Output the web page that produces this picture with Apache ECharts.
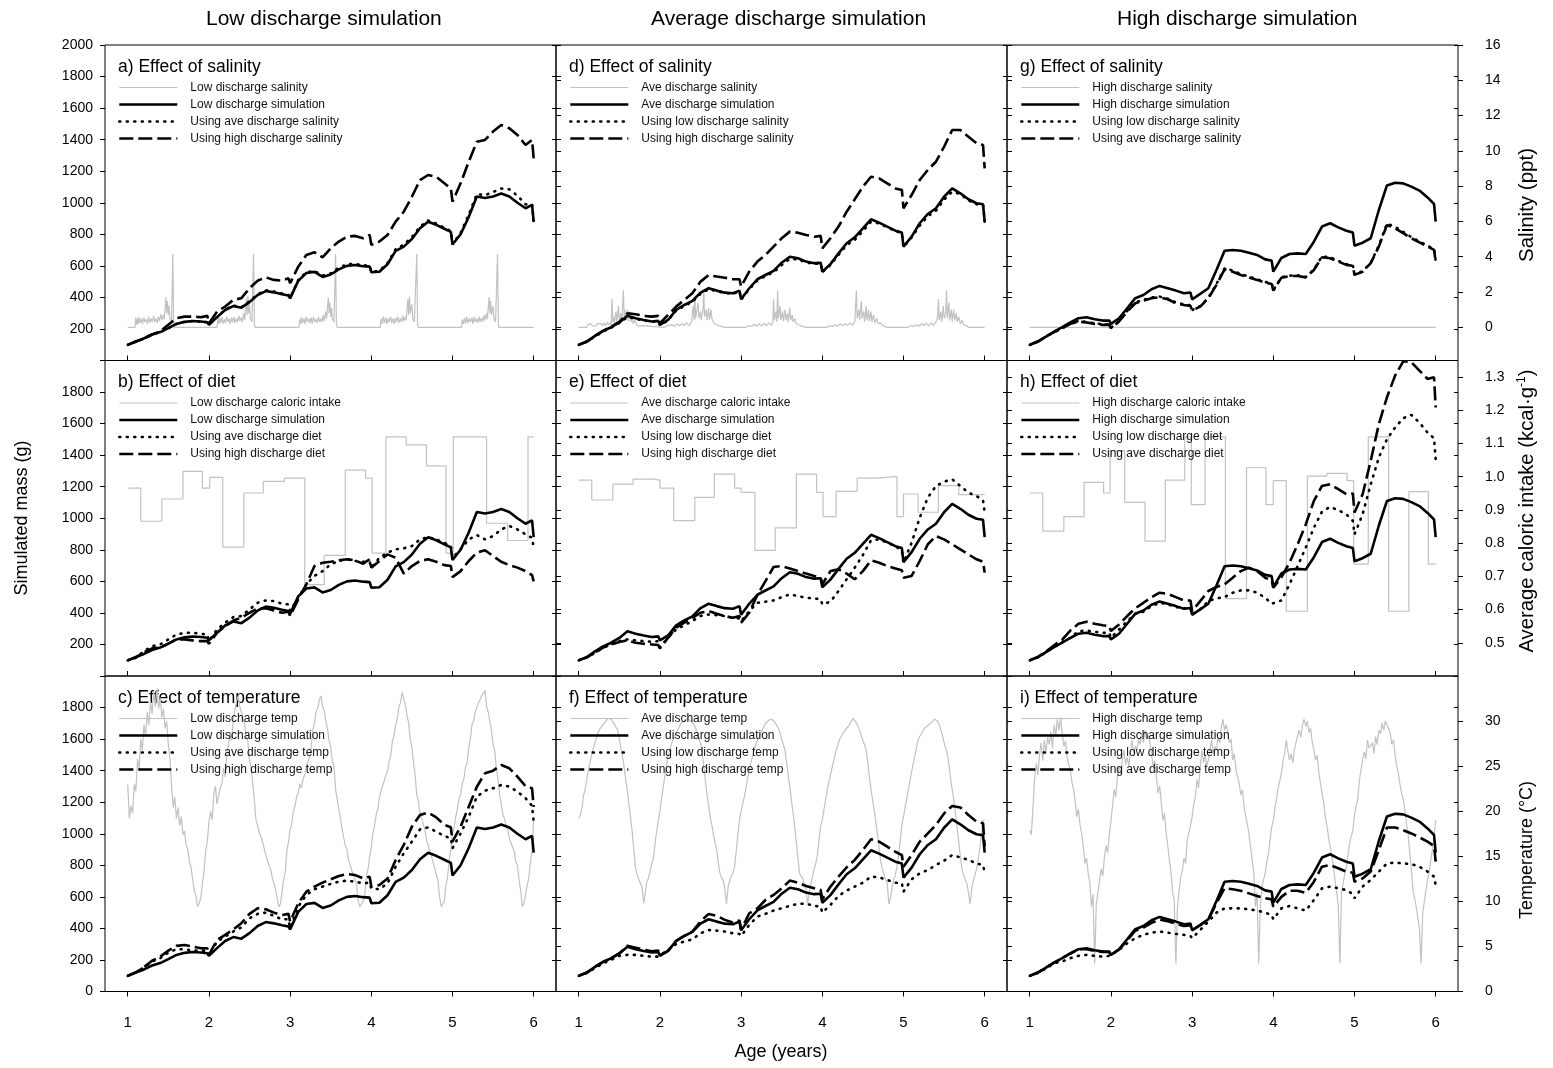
<!DOCTYPE html>
<html>
<head>
<meta charset="utf-8">
<title>Simulated mass by discharge scenario</title>
<script src="https://cdn.jsdelivr.net/npm/echarts@6/dist/echarts.min.js"></script>
<style>
  html, body { margin: 0; padding: 0; background: #fff; }
  #chart { width: 1553px; height: 1068px; }
</style>
</head>
<body>
<div id="chart"></div>
<script>
// ---------------------------------------------------------------------------
// Sampling ages (years) shared by every simulated-mass curve.
// Each year ends with a point just before the birthday drop.
// ---------------------------------------------------------------------------
const ages = [
  1.0, 1.1, 1.2, 1.3, 1.4, 1.5, 1.6, 1.7, 1.8, 1.9, 1.98,
  2.0, 2.1, 2.2, 2.3, 2.4, 2.5, 2.6, 2.7, 2.8, 2.9, 2.98,
  3.0, 3.1, 3.2, 3.3, 3.4, 3.5, 3.6, 3.7, 3.8, 3.9, 3.98,
  4.0, 4.1, 4.2, 4.3, 4.4, 4.5, 4.6, 4.7, 4.8, 4.9, 4.98,
  5.0, 5.1, 5.2, 5.3, 5.4, 5.5, 5.6, 5.7, 5.8, 5.9, 5.98,
  6.0
];

// Simulated mass (g) — low discharge column
const massLowSim = [
  99, 120, 140, 165, 180, 205, 232, 245, 250, 247, 242,
  226, 275, 320, 345, 335, 370, 415, 440, 432, 420, 412,
  394, 505, 555, 562, 530, 545, 578, 600, 605, 598, 595,
  560, 563, 610, 695, 722, 770, 838, 880, 860, 835, 815,
  735, 800, 910, 1040, 1030, 1040, 1058, 1040, 1000, 965, 986,
  880
];
const massLowAveSal = [
  99, 120, 140, 165, 180, 205, 232, 245, 250, 247, 242,
  226, 275, 322, 348, 338, 375, 420, 445, 438, 425, 415,
  396, 510, 560, 568, 538, 552, 588, 610, 612, 605, 600,
  562, 568, 618, 705, 735, 782, 848, 888, 868, 842, 820,
  738, 808, 925, 1055, 1048, 1068, 1090, 1085, 1045, 990, 990,
  885
];
const massLowHighSal = [
  99, 120, 140, 165, 185, 226, 268, 278, 278, 274, 283,
  236, 310, 342, 384, 395, 458, 506, 527, 511, 506, 521,
  490, 595, 669, 686, 654, 711, 754, 785, 790, 775, 796,
  733, 754, 796, 880, 943, 1038, 1144, 1176, 1165, 1123, 1091,
  1007, 1123, 1260, 1387, 1398, 1451, 1493, 1472, 1430, 1366, 1398,
  1282
];
const massLowAveDiet = [
  99, 115, 158, 189, 200, 232, 263, 274, 274, 268, 263,
  221, 295, 338, 373, 380, 422, 464, 479, 475, 458, 454,
  412, 496, 581, 634, 665, 708, 729, 740, 729, 724, 724,
  687, 750, 782, 803, 809, 824, 866, 881, 866, 845, 824,
  750, 803, 866, 893, 866, 887, 929, 951, 929, 898, 876,
  813
];
const massLowHighDiet = [
  99, 118, 150, 175, 180, 205, 232, 232, 226, 221, 221,
  204, 274, 316, 352, 369, 401, 429, 429, 416, 401, 407,
  380, 486, 581, 697, 718, 724, 733, 740, 733, 712, 740,
  687, 729, 771, 750, 649, 697, 729, 740, 724, 703, 697,
  627, 665, 729, 782, 797, 761, 724, 703, 687, 665, 640,
  600
];
const massLowAveTemp = [
  99, 122, 152, 190, 211, 247, 268, 268, 259, 259, 259,
  226, 317, 348, 380, 407, 464, 492, 500, 479, 458, 458,
  401, 538, 612, 648, 665, 682, 696, 703, 696, 686, 690,
  654, 648, 686, 791, 876, 950, 1028, 1040, 1013, 986, 971,
  908, 1002, 1108, 1235, 1273, 1288, 1309, 1299, 1267, 1225, 1177,
  1077
];
const massLowHighTemp = [
  99, 122, 155, 195, 221, 259, 289, 295, 285, 274, 274,
  232, 327, 359, 394, 433, 492, 528, 521, 500, 485, 492,
  443, 559, 633, 665, 690, 711, 732, 745, 738, 717, 728,
  665, 675, 717, 834, 929, 1045, 1119, 1134, 1104, 1056, 1041,
  950, 1045, 1171, 1298, 1383, 1400, 1436, 1415, 1362, 1302, 1288,
  1171
];

// Simulated mass (g) — average discharge column
const massAveSim = [
  99, 120, 156, 188, 211, 241, 283, 268, 257, 247, 251,
  226, 257, 321, 352, 378, 430, 458, 443, 430, 426, 443,
  388, 458, 515, 542, 568, 620, 658, 648, 627, 617, 620,
  563, 611, 679, 743, 781, 838, 895, 874, 849, 823, 811,
  722, 785, 870, 929, 965, 1038, 1091, 1060, 1022, 997, 990,
  880
];
const massAveLowSal = [
  99, 120, 152, 184, 208, 238, 276, 264, 254, 245, 248,
  224, 254, 316, 346, 372, 423, 452, 440, 428, 423, 438,
  385, 452, 508, 535, 560, 605, 645, 640, 622, 612, 615,
  560, 605, 670, 732, 765, 820, 880, 868, 845, 820, 808,
  720, 780, 855, 915, 950, 1020, 1070, 1055, 1015, 990, 985,
  880
];
const massAveHighSal = [
  99, 120, 156, 188, 215, 245, 299, 293, 283, 278, 283,
  236, 289, 342, 384, 426, 500, 542, 532, 525, 515, 515,
  468, 563, 627, 669, 722, 775, 817, 810, 796, 785, 790,
  711, 775, 849, 943, 1022, 1102, 1165, 1155, 1123, 1091, 1081,
  965, 1049, 1144, 1208, 1260, 1355, 1461, 1461, 1419, 1377, 1366,
  1218
];
const massAveLowDiet = [
  99, 118, 147, 179, 200, 221, 232, 226, 221, 217, 221,
  183, 242, 295, 322, 348, 380, 390, 386, 380, 369, 365,
  348, 412, 464, 471, 479, 500, 517, 507, 496, 492, 486,
  454, 471, 539, 613, 687, 767, 860, 866, 845, 824, 792,
  718, 845, 1004, 1131, 1205, 1232, 1247, 1205, 1162, 1141, 1113,
  1036
];
const massAveHighDiet = [
  99, 118, 150, 180, 200, 215, 226, 211, 204, 200, 196,
  175, 242, 306, 338, 369, 401, 412, 395, 380, 369, 380,
  338, 401, 513, 602, 691, 697, 682, 665, 649, 634, 623,
  581, 665, 676, 649, 613, 665, 733, 718, 697, 682, 670,
  623, 634, 729, 835, 887, 866, 835, 803, 771, 740, 724,
  655
];
const massAveLowTemp = [
  99, 118, 148, 179, 200, 226, 232, 232, 226, 221, 221,
  211, 264, 301, 317, 331, 369, 390, 386, 380, 369, 365,
  352, 422, 475, 492, 513, 528, 543, 556, 556, 543, 538,
  500, 549, 606, 640, 665, 690, 728, 724, 707, 690, 686,
  633, 711, 749, 770, 802, 829, 865, 850, 834, 812, 802,
  753
];
const massAveHighTemp = [
  99, 120, 156, 188, 211, 241, 290, 278, 265, 255, 260,
  230, 257, 321, 352, 380, 444, 492, 479, 454, 437, 450,
  390, 496, 527, 580, 612, 654, 703, 690, 669, 654, 643,
  584, 665, 728, 787, 834, 897, 965, 950, 918, 886, 865,
  791, 865, 950, 1002, 1055, 1129, 1176, 1167, 1119, 1077, 1066,
  918
];

// Simulated mass (g) — high discharge column
const massHighSim = [
  99, 120, 152, 183, 211, 241, 268, 274, 262, 253, 253,
  232, 268, 331, 395, 415, 452, 473, 458, 443, 426, 431,
  388, 422, 458, 574, 696, 700, 696, 683, 669, 641, 633,
  563, 650, 675, 679, 675, 753, 849, 870, 844, 823, 811,
  728, 747, 775, 954, 1110, 1127, 1123, 1102, 1077, 1034, 992,
  880
];
const massHighLowSal = [
  99, 120, 152, 180, 205, 235, 250, 245, 236, 230, 230,
  208, 250, 315, 368, 385, 400, 405, 392, 368, 356, 350,
  320, 345, 398, 485, 585, 570, 548, 532, 515, 498, 488,
  445, 528, 538, 540, 530, 578, 660, 655, 632, 610, 604,
  545, 566, 620, 728, 868, 848, 815, 782, 755, 728, 706,
  632
];
const massHighAveSal = [
  99, 120, 152, 180, 205, 233, 247, 241, 232, 226, 226,
  205, 247, 310, 363, 380, 395, 401, 388, 363, 352, 346,
  317, 342, 395, 479, 578, 563, 542, 527, 511, 494, 485,
  443, 525, 535, 536, 527, 574, 654, 648, 627, 606, 600,
  543, 563, 617, 722, 859, 838, 807, 775, 749, 722, 701,
  627
];
const massHighLowDiet = [
  99, 118, 150, 183, 215, 242, 284, 288, 280, 274, 274,
  242, 295, 348, 394, 407, 443, 464, 454, 437, 429, 433,
  391, 422, 475, 492, 500, 528, 543, 543, 528, 496, 458,
  450, 479, 581, 697, 814, 940, 1042, 1072, 1051, 1025, 983,
  898, 1025, 1215, 1385, 1501, 1575, 1634, 1655, 1606, 1543, 1507,
  1374
];
const massHighAveDiet = [
  99, 120, 156, 195, 230, 288, 331, 344, 331, 322, 316,
  285, 327, 380, 429, 464, 500, 528, 521, 500, 479, 479,
  412, 475, 539, 564, 581, 623, 665, 687, 665, 623, 606,
  560, 627, 718, 835, 961, 1110, 1205, 1216, 1184, 1152, 1157,
  1036, 1152, 1364, 1597, 1767, 1904, 1995, 1990, 1936, 1883, 1894,
  1702
];
const massHighLowTemp = [
  99, 118, 145, 179, 190, 211, 226, 232, 226, 221, 226,
  217, 264, 306, 338, 359, 373, 380, 373, 365, 359, 352,
  338, 390, 443, 500, 527, 527, 527, 521, 513, 500, 485,
  458, 527, 542, 527, 513, 580, 654, 665, 654, 643, 618,
  591, 665, 707, 760, 812, 817, 812, 808, 791, 760, 728,
  675
];
const massHighAveTemp = [
  99, 120, 152, 183, 211, 241, 268, 268, 258, 250, 250,
  232, 265, 325, 385, 405, 435, 455, 445, 430, 415, 420,
  390, 420, 455, 560, 655, 648, 639, 622, 605, 591, 584,
  537, 600, 639, 639, 626, 696, 791, 802, 781, 760, 753,
  696, 717, 760, 897, 1040, 1040, 1023, 1002, 977, 950, 922,
  823
];

// Salinity (ppt) as [age, value] readings
const salinityLow = [
  [1.00,0],[1.09,0],[1.10,0.55],[1.11,0.15],[1.12,0.5],[1.13,0.2],[1.14,0.6],[1.15,0.25],[1.17,0.5],[1.18,0.2],
  [1.20,0.55],[1.21,0.3],[1.23,0.45],[1.24,0.2],[1.26,0.6],[1.27,0.25],[1.29,0.5],[1.30,0.3],[1.32,0.65],[1.33,0.3],
  [1.35,0.5],[1.36,0.25],[1.38,0.6],[1.39,0.35],[1.41,0.75],[1.42,0.4],[1.44,0.7],[1.45,0.45],[1.47,1.7],[1.48,0.8],
  [1.49,1.5],[1.50,0.7],[1.51,1.2],[1.52,0.5],[1.54,0.3],[1.555,4.15],[1.565,0.2],[1.57,0],
  [2.10,0],[2.11,0.5],[2.12,0.2],[2.13,0.55],[2.14,0.25],[2.16,0.6],[2.17,0.2],[2.19,0.45],[2.20,0.25],[2.22,0.6],
  [2.23,0.3],[2.25,0.5],[2.26,0.2],[2.28,0.55],[2.29,0.3],[2.31,0.6],[2.32,0.25],[2.34,0.5],[2.35,0.3],[2.37,0.65],
  [2.38,0.35],[2.40,0.55],[2.41,0.3],[2.43,0.8],[2.44,0.4],[2.46,1.6],[2.47,0.7],[2.48,1.8],[2.49,0.8],[2.50,1.3],
  [2.51,0.5],[2.53,0.3],[2.55,4.15],[2.56,0.2],[2.57,0],
  [3.11,0],[3.12,0.45],[3.13,0.2],[3.14,0.6],[3.15,0.25],[3.17,0.5],[3.18,0.2],[3.20,0.6],[3.21,0.3],[3.23,0.5],
  [3.24,0.25],[3.26,0.55],[3.27,0.2],[3.29,0.6],[3.30,0.3],[3.32,0.45],[3.33,0.25],[3.35,0.6],[3.36,0.3],[3.38,0.5],
  [3.39,0.3],[3.41,0.7],[3.42,0.35],[3.44,0.9],[3.45,0.5],[3.47,1.7],[3.48,0.8],[3.49,1.4],[3.50,0.6],[3.51,1.1],
  [3.52,0.5],[3.54,0.3],[3.56,4.15],[3.57,0.2],[3.58,0],
  [4.11,0],[4.12,0.5],[4.13,0.2],[4.15,0.6],[4.16,0.25],[4.18,0.55],[4.19,0.2],[4.21,0.5],[4.22,0.3],[4.24,0.6],
  [4.25,0.25],[4.27,0.5],[4.28,0.2],[4.30,0.55],[4.31,0.3],[4.33,0.6],[4.34,0.25],[4.36,0.5],[4.37,0.3],[4.39,0.65],
  [4.40,0.35],[4.42,0.6],[4.43,0.4],[4.45,1.6],[4.46,0.7],[4.47,1.75],[4.48,0.8],[4.50,1.3],[4.51,0.5],[4.53,0.3],
  [4.56,4.15],[4.57,0.2],[4.58,0],
  [5.11,0],[5.12,0.45],[5.13,0.2],[5.15,0.55],[5.16,0.2],[5.18,0.6],[5.19,0.25],[5.21,0.5],[5.22,0.3],[5.24,0.55],
  [5.25,0.2],[5.27,0.6],[5.28,0.3],[5.30,0.5],[5.31,0.25],[5.33,0.6],[5.34,0.3],[5.36,0.55],[5.37,0.3],[5.39,0.7],
  [5.40,0.4],[5.42,0.8],[5.43,0.45],[5.45,1.7],[5.46,0.8],[5.47,1.5],[5.48,0.7],[5.50,1.2],[5.51,0.5],[5.53,0.3],
  [5.555,4.15],[5.565,0.2],[5.57,0],[6.00,0]
];
const salinityAve = [
  [1.00,0],[1.10,0],[1.11,0.15],[1.13,0.05],[1.15,0.2],[1.17,0.08],[1.19,0.18],[1.21,0.06],[1.23,0.2],[1.25,0.1],
  [1.27,0.22],[1.29,0.08],[1.31,0.25],[1.33,0.1],[1.35,0.28],[1.37,0.12],[1.39,0.3],[1.40,0.15],[1.41,1.6],[1.42,0.3],
  [1.43,0.6],[1.44,0.25],[1.46,0.9],[1.47,0.3],[1.49,1.2],[1.50,0.4],[1.52,0.8],[1.53,0.3],[1.55,2.1],[1.56,0.5],
  [1.57,1.0],[1.58,0.4],[1.60,1.0],[1.61,0.35],[1.63,0.9],[1.64,0.3],[1.66,0.6],[1.67,0.2],[1.69,0.4],[1.71,0.15],
  [1.73,0.2],[1.75,0.05],[1.78,0.1],[1.80,0],[2.05,0],
  [2.10,0.1],[2.12,0.05],[2.15,0.15],[2.18,0.05],[2.21,0.2],[2.24,0.08],[2.27,0.2],[2.30,0.1],[2.33,0.25],[2.36,0.1],
  [2.39,0.3],[2.41,1.2],[2.42,0.4],[2.43,1.75],[2.44,0.5],[2.46,0.6],[2.47,1.4],[2.48,0.5],[2.50,0.9],[2.51,0.4],
  [2.53,1.0],[2.54,2.1],[2.55,0.6],[2.57,1.0],[2.58,0.4],[2.60,1.1],[2.61,0.4],[2.63,1.0],[2.64,0.5],[2.66,0.6],
  [2.67,0.2],[2.69,0.3],[2.72,0.1],[2.75,0.05],[2.80,0],[3.05,0],
  [3.10,0.1],[3.13,0.05],[3.16,0.18],[3.19,0.06],[3.22,0.2],[3.25,0.08],[3.28,0.22],[3.31,0.1],[3.34,0.25],[3.37,0.12],
  [3.39,0.3],[3.40,1.6],[3.41,0.4],[3.43,0.9],[3.44,0.3],[3.45,2.1],[3.46,0.5],[3.48,1.2],[3.49,0.4],[3.51,0.9],
  [3.52,0.35],[3.54,1.0],[3.55,0.4],[3.57,0.8],[3.58,0.3],[3.60,1.1],[3.61,0.4],[3.63,0.7],[3.64,0.3],[3.66,0.5],
  [3.68,0.2],[3.70,0.3],[3.73,0.1],[3.76,0.05],[3.80,0],[4.05,0],
  [4.10,0.1],[4.13,0.05],[4.16,0.15],[4.19,0.06],[4.22,0.2],[4.25,0.08],[4.28,0.22],[4.31,0.1],[4.34,0.25],[4.37,0.12],
  [4.40,0.3],[4.42,2.1],[4.43,0.5],[4.45,1.0],[4.46,0.4],[4.48,1.5],[4.49,0.5],[4.51,0.9],[4.52,0.3],[4.54,1.2],
  [4.55,0.4],[4.57,1.0],[4.58,0.35],[4.60,0.9],[4.61,0.3],[4.63,0.7],[4.65,0.25],[4.67,0.5],[4.69,0.2],[4.72,0.25],
  [4.75,0.08],[4.80,0],[5.05,0],
  [5.10,0.1],[5.13,0.05],[5.16,0.15],[5.19,0.06],[5.22,0.2],[5.25,0.1],[5.28,0.22],[5.31,0.08],[5.34,0.25],[5.37,0.12],
  [5.40,0.3],[5.42,0.6],[5.43,1.6],[5.44,0.4],[5.46,0.9],[5.47,0.3],[5.49,1.2],[5.50,0.5],[5.52,0.8],[5.53,2.1],
  [5.54,0.5],[5.56,1.4],[5.57,0.4],[5.59,1.0],[5.60,0.35],[5.62,1.0],[5.63,0.4],[5.65,0.8],[5.66,0.3],[5.68,0.6],
  [5.70,0.2],[5.72,0.4],[5.74,0.15],[5.77,0.1],[5.80,0],[6.00,0]
];
const salinityHigh = [[1.00,0],[6.00,0]];

// Average caloric intake (kcal·g-1): [start age, value] of each step
const intakeLow = [
  [1.00,0.966],[1.16,0.866],[1.42,0.933],[1.68,1.016],[1.92,0.966],[2.01,0.998],[2.17,0.788],[2.43,0.951],
  [2.67,0.986],[2.93,0.996],[3.18,0.675],[3.42,0.763],[3.68,1.02],[3.93,0.996],[4.01,0.77],[4.18,1.12],
  [4.43,1.096],[4.68,1.033],[4.92,0.77],[5.01,1.12],[5.42,0.86],[5.68,0.808],[5.93,1.12],[6.00,1.12]
];
const intakeAve = [
  [1.00,0.99],[1.16,0.93],[1.42,0.978],[1.67,0.993],[1.92,0.99],[2.00,0.966],[2.17,0.868],[2.43,0.938],
  [2.67,1.008],[2.92,0.966],[3.00,0.953],[3.17,0.778],[3.42,0.846],[3.68,1.008],[3.93,0.953],[4.01,0.88],
  [4.17,0.956],[4.43,0.996],[4.68,1.001],[4.92,0.88],[5.00,0.948],[5.18,0.893],[5.43,0.973],[5.68,0.946],[6.00,0.946]
];
const intakeHigh = [
  [1.00,0.951],[1.16,0.836],[1.42,0.88],[1.67,0.983],[1.91,0.951],[1.99,1.078],[2.17,0.923],[2.42,0.806],
  [2.67,0.99],[2.91,1.12],[2.99,0.916],[3.16,1.12],[3.41,0.633],[3.67,1.027],[3.91,0.916],[4.00,0.988],
  [4.16,0.595],[4.42,1.002],[4.66,1.01],[4.91,0.988],[4.99,0.737],[5.17,1.12],[5.42,0.595],[5.67,0.955],
  [5.91,0.737],[6.00,0.737]
];

// Water temperature (°C) sampled every 0.02 years from age 1.00 to 6.00
const tempAgeStart = 1.0;
const tempAgeStep = 0.02;
const tempLow = [
  23.0, 19.2, 20.6, 19.8, 23.0, 22.2, 25.8, 24.6, 28.0, 26.8, 29.6, 28.2, 31.0, 29.6, 32.2, 30.8, 33.2, 31.6, 33.6, 31.4, 32.6, 30.4, 31.4, 29.2, 30.0,
  27.4, 25.8, 22.8, 20.4, 21.6, 19.2, 20.4, 18.4, 19.4, 17.4, 17.8, 16.2, 15.8, 14.4, 13.8, 12.4, 11.2, 10.6, 9.4, 9.8, 10.4, 12.0, 13.4, 15.6, 16.6,
  18.8, 20.0, 19.0, 21.8, 22.8, 20.8, 20.6, 22.6, 23.0, 24.8, 23.8, 26.4, 27.2, 28.8, 27.8, 30.2, 31.2, 32.2, 32.8, 31.6, 31.4, 30.4, 29.6, 28.2, 27.8,
  25.6, 24.8, 23.0, 21.2, 19.0, 18.4, 17.6, 17.2, 16.6, 16.4, 15.2, 15.0, 14.0, 13.6, 12.6, 12.8, 11.4, 10.4, 9.4, 9.7, 9.8, 12.4, 13.2, 15.6, 16.6,
  18.0, 18.6, 20.0, 20.6, 21.6, 22.0, 23.0, 22.6, 23.6, 24.0, 25.0, 25.2, 26.0, 27.2, 29.0, 29.8, 31.0, 31.4, 32.4, 32.8, 31.6, 31.2, 30.0, 29.2, 27.8,
  27.2, 25.6, 25.0, 22.4, 21.4, 20.2, 19.2, 18.0, 17.8, 16.2, 15.8, 14.6, 14.4, 13.4, 13.2, 12.4, 11.8, 10.0, 9.4, 9.6, 10.0, 10.8, 12.8, 13.6, 15.0,
  16.0, 17.6, 18.4, 19.6, 20.2, 21.6, 21.8, 22.8, 23.0, 24.0, 24.4, 25.6, 26.2, 27.8, 28.4, 29.6, 30.2, 31.6, 32.0, 33.2, 32.4, 31.8, 30.6, 29.8, 28.0,
  27.0, 25.4, 24.0, 21.8, 21.0, 19.8, 19.6, 18.6, 18.0, 16.8, 16.6, 15.6, 15.4, 14.4, 14.2, 13.0, 12.4, 10.6, 9.4, 9.7, 10.0, 11.8, 12.8, 14.6, 15.8,
  17.4, 18.2, 19.4, 20.2, 21.4, 21.8, 23.0, 23.6, 24.8, 25.4, 27.0, 28.0, 29.6, 30.0, 31.0, 31.2, 32.0, 32.0, 32.8, 32.8, 33.4, 31.6, 31.0, 30.0, 29.0,
  27.4, 26.8, 24.8, 23.6, 21.8, 20.8, 19.6, 19.2, 18.4, 18.0, 17.0, 16.8, 16.0, 15.6, 14.4, 14.0, 12.4, 11.2, 9.4, 9.8, 10.0, 11.8, 12.6, 14.4, 15.6,
  19.0
];
const tempAve = [
  19.2, 19.6, 20.4, 21.8, 22.4, 23.6, 24.6, 25.4, 26.4, 27.0, 27.6, 28.2, 28.8, 29.0, 29.4, 29.6, 29.8, 30.0, 30.3, 30.1, 30.2, 29.9, 29.6, 29.4, 29.0,
  28.0, 27.0, 26.0, 24.8, 23.4, 22.2, 20.6, 19.2, 17.6, 15.6, 13.6, 13.0, 12.4, 12.2, 11.6, 9.8, 11.0, 12.2, 12.6, 13.4, 14.2, 14.8, 16.4, 17.8, 19.0,
  20.0, 21.4, 22.7, 23.8, 25.0, 26.1, 26.8, 27.4, 27.9, 28.3, 28.7, 29.0, 29.4, 29.8, 29.9, 30.0, 30.2, 30.3, 30.1, 30.0, 29.9, 29.6, 29.2, 28.6, 28.0,
  27.6, 26.6, 25.0, 23.4, 21.8, 20.6, 19.4, 18.4, 17.4, 16.4, 15.7, 14.2, 13.1, 12.6, 12.3, 11.4, 9.7, 11.6, 12.3, 12.8, 13.2, 13.8, 15.6, 17.4, 19.0,
  20.0, 20.8, 21.6, 22.6, 23.6, 24.6, 25.4, 26.0, 26.8, 27.4, 27.8, 28.2, 28.6, 29.0, 29.4, 29.7, 29.9, 30.1, 30.3, 30.2, 30.0, 29.8, 29.5, 29.2, 28.6,
  28.0, 27.4, 26.8, 25.4, 24.0, 22.7, 21.2, 19.8, 18.3, 16.6, 14.8, 13.1, 12.8, 12.5, 12.3, 11.2, 9.7, 11.0, 12.0, 12.8, 13.6, 14.2, 15.2, 16.8, 18.4,
  19.0, 20.2, 21.2, 22.3, 23.2, 24.0, 24.8, 25.6, 26.4, 27.0, 27.6, 28.1, 28.4, 28.7, 29.0, 29.2, 29.4, 29.7, 30.0, 30.3, 30.1, 29.8, 29.4, 29.0, 28.4,
  27.8, 27.4, 26.8, 25.4, 23.8, 22.4, 21.2, 20.0, 18.8, 17.4, 15.8, 14.4, 13.6, 13.0, 12.4, 12.0, 9.7, 10.4, 11.6, 12.4, 13.0, 13.8, 15.2, 16.8, 18.4,
  19.4, 20.4, 21.4, 22.4, 23.4, 24.4, 25.3, 26.2, 27.0, 27.9, 28.3, 28.6, 28.9, 29.2, 29.4, 29.5, 29.7, 29.8, 30.0, 30.2, 30.3, 30.0, 29.6, 29.0, 28.4,
  27.6, 27.0, 26.4, 25.2, 23.6, 22.4, 21.2, 19.8, 18.2, 16.6, 15.0, 13.6, 12.9, 12.4, 12.0, 11.0, 9.7, 11.4, 12.3, 12.9, 13.6, 14.6, 15.8, 17.4, 19.0,
  19.0
];
const tempHigh = [
  17.9, 17.4, 20.5, 23.6, 25.3, 24.0, 26.2, 27.6, 25.6, 27.9, 26.4, 28.2, 27.4, 28.8, 27.0, 29.6, 28.4, 30.2, 29.0, 30.4, 28.6, 27.2, 27.8, 26.0, 25.2,
  24.6, 23.2, 22.4, 21.0, 19.4, 20.2, 18.4, 17.5, 16.0, 14.2, 14.8, 13.1, 12.0, 9.4, 10.8, 3.1, 9.7, 11.0, 12.3, 13.6, 12.8, 14.9, 16.2, 15.4, 17.5,
  18.8, 20.6, 22.4, 21.6, 23.8, 25.0, 24.2, 25.6, 26.8, 25.2, 26.0, 25.0, 26.6, 27.9, 26.4, 27.2, 26.8, 28.0, 27.4, 28.6, 27.6, 29.0, 28.0, 28.4, 27.6,
  26.4, 25.0, 25.6, 23.8, 22.0, 22.8, 21.0, 19.0, 19.8, 17.6, 16.2, 14.6, 13.2, 11.0, 10.1, 3.1, 9.4, 11.2, 12.7, 13.4, 14.8, 14.2, 16.8, 17.6, 18.4,
  19.4, 20.8, 21.6, 23.5, 22.6, 24.8, 26.8, 25.4, 26.2, 25.0, 25.7, 26.8, 27.9, 26.4, 27.2, 26.8, 28.2, 27.6, 29.4, 30.2, 29.0, 29.6, 28.7, 27.6, 28.0,
  25.7, 26.4, 24.6, 23.8, 23.1, 21.8, 22.4, 20.5, 19.4, 18.6, 17.5, 16.0, 14.6, 13.1, 9.4, 11.0, 3.1, 9.4, 11.6, 12.4, 13.1, 14.4, 15.2, 16.8, 18.2,
  19.0, 20.4, 21.3, 22.6, 23.4, 24.2, 25.6, 26.4, 27.9, 26.6, 25.7, 26.4, 25.4, 26.8, 27.6, 28.4, 29.0, 28.2, 29.6, 30.2, 29.4, 30.0, 28.7, 29.2, 27.6,
  26.8, 25.7, 26.2, 24.4, 23.1, 22.0, 21.0, 19.4, 18.4, 17.2, 16.1, 15.0, 14.0, 12.3, 11.0, 9.6, 3.1, 10.9, 12.0, 13.0, 13.8, 15.2, 16.4, 17.2, 17.9,
  19.6, 20.6, 21.3, 23.4, 24.6, 25.7, 26.6, 25.8, 27.9, 27.0, 26.8, 27.6, 26.4, 28.3, 27.4, 29.0, 28.6, 29.8, 29.0, 30.0, 30.2, 29.2, 28.6, 27.4, 27.9,
  26.2, 25.0, 24.2, 23.0, 22.0, 21.3, 20.2, 18.6, 17.5, 15.4, 13.6, 11.2, 10.4, 9.4, 8.2, 7.0, 3.1, 8.6, 10.0, 11.2, 12.4, 13.2, 14.6, 15.8, 17.0,
  19.0
];

// Tick values
const ageTicks = [1, 2, 3, 4, 5, 6];
const massTicksTop = [200, 400, 600, 800, 1000, 1200, 1400, 1600, 1800, 2000];
const massTicksMid = [200, 400, 600, 800, 1000, 1200, 1400, 1600, 1800];
const massTicksLow = [0, 200, 400, 600, 800, 1000, 1200, 1400, 1600, 1800];
const salinityTicks = [0, 2, 4, 6, 8, 10, 12, 14, 16];
const intakeTicks = [0.5, 0.6, 0.7, 0.8, 0.9, 1.0, 1.1, 1.2, 1.3];
const tempTicks = [0, 5, 10, 15, 20, 25, 30];

// Column headings
const columnTitles = ['Low discharge simulation', 'Average discharge simulation', 'High discharge simulation'];

// ---------------------------------------------------------------------------
// Panel definitions
// ---------------------------------------------------------------------------
const panels = [
  { row: 0, col: 0, title: 'a) Effect of salinity',
    gray: { name: 'Low discharge salinity', kind: 'pairs', data: salinityLow },
    solid: { name: 'Low discharge simulation', values: massLowSim },
    dotted: { name: 'Using ave discharge salinity', values: massLowAveSal },
    dashed: { name: 'Using high discharge salinity', values: massLowHighSal } },
  { row: 1, col: 0, title: 'b) Effect of diet',
    gray: { name: 'Low discharge caloric intake', kind: 'steps', data: intakeLow },
    solid: { name: 'Low discharge simulation', values: massLowSim },
    dotted: { name: 'Using ave discharge diet', values: massLowAveDiet },
    dashed: { name: 'Using high discharge diet', values: massLowHighDiet } },
  { row: 2, col: 0, title: 'c) Effect of temperature',
    gray: { name: 'Low discharge temp', kind: 'series', data: tempLow },
    solid: { name: 'Low discharge simulation', values: massLowSim },
    dotted: { name: 'Using ave discharge temp', values: massLowAveTemp },
    dashed: { name: 'Using high discharge temp', values: massLowHighTemp } },
  { row: 0, col: 1, title: 'd) Effect of salinity',
    gray: { name: 'Ave discharge salinity', kind: 'pairs', data: salinityAve },
    solid: { name: 'Ave discharge simulation', values: massAveSim },
    dotted: { name: 'Using low discharge salinity', values: massAveLowSal },
    dashed: { name: 'Using high discharge salinity', values: massAveHighSal } },
  { row: 1, col: 1, title: 'e) Effect of diet',
    gray: { name: 'Ave discharge caloric intake', kind: 'steps', data: intakeAve },
    solid: { name: 'Ave discharge simulation', values: massAveSim },
    dotted: { name: 'Using low discharge diet', values: massAveLowDiet },
    dashed: { name: 'Using high discharge diet', values: massAveHighDiet } },
  { row: 2, col: 1, title: 'f) Effect of temperature',
    gray: { name: 'Ave discharge temp', kind: 'series', data: tempAve },
    solid: { name: 'Ave discharge simulation', values: massAveSim },
    dotted: { name: 'Using low discharge temp', values: massAveLowTemp },
    dashed: { name: 'Using high discharge temp', values: massAveHighTemp } },
  { row: 0, col: 2, title: 'g) Effect of salinity',
    gray: { name: 'High discharge salinity', kind: 'pairs', data: salinityHigh },
    solid: { name: 'High discharge simulation', values: massHighSim },
    dotted: { name: 'Using low discharge salinity', values: massHighLowSal },
    dashed: { name: 'Using ave discharge salinity', values: massHighAveSal } },
  { row: 1, col: 2, title: 'h) Effect of diet',
    gray: { name: 'High discharge caloric intake', kind: 'steps', data: intakeHigh },
    solid: { name: 'High discharge simulation', values: massHighSim },
    dotted: { name: 'Using low discharge diet', values: massHighLowDiet },
    dashed: { name: 'Using ave discharge diet', values: massHighAveDiet } },
  { row: 2, col: 2, title: 'i) Effect of temperature',
    gray: { name: 'High discharge temp', kind: 'series', data: tempHigh },
    solid: { name: 'High discharge simulation', values: massHighSim },
    dotted: { name: 'Using low discharge temp', values: massHighLowTemp },
    dashed: { name: 'Using ave discharge temp', values: massHighAveTemp } }
];

// ---------------------------------------------------------------------------
// Layout and styling
// ---------------------------------------------------------------------------
const FONT = "'Liberation Sans', Arial, Helvetica, sans-serif";
const colLeft = [105, 556, 1007];
const rowTop = [45, 360.5, 676];
const panelW = 451, panelH = 315.5;
const ageMin = 0.72, ageMax = 6.275;

const secondary = [
  { min: -1.88, max: 16, ticks: salinityTicks, fmt: v => String(v) },
  { min: 0.4, max: 1.35, ticks: intakeTicks, fmt: v => v.toFixed(1) },
  { min: 0, max: 35, ticks: tempTicks, fmt: v => String(v) }
];
const massLabelTicks = [massTicksTop, massTicksMid, massTicksLow];

const lineStyles = {
  gray:   { color: '#c2c2c2', width: 1.2, type: 'solid' },
  solid:  { color: '#000', width: 2.6, type: 'solid' },
  dotted: { color: '#000', width: 2.6, type: [1, 6.5], cap: 'round' },
  dashed: { color: '#000', width: 2.6, type: [14, 5], cap: 'butt' }
};

const option = {
  animation: false,
  backgroundColor: '#fff',
  grid: [], xAxis: [], yAxis: [], series: [], legend: [], graphic: []
};

panels.forEach((p, i) => {
  const left = colLeft[p.col], top = rowTop[p.row];
  const bottomRow = p.row === 2;
  const sec = secondary[p.row];

  option.grid.push({
    left, top, width: panelW, height: panelH,
    show: true, borderColor: '#000', borderWidth: 1, backgroundColor: 'transparent'
  });

  option.xAxis.push({
    type: 'value', gridIndex: i, min: ageMin, max: ageMax,
    axisLine: { show: false }, splitLine: { show: false },
    axisTick: { show: true, inside: !bottomRow, length: 5, customValues: ageTicks,
                lineStyle: { color: '#000', width: 1 } },
    axisLabel: { show: bottomRow, customValues: ageTicks, margin: 24,
                 fontSize: 15, color: '#000', fontFamily: FONT }
  });

  // mass axis on the left
  option.yAxis.push({
    type: 'value', gridIndex: i, position: 'left', min: 0, max: 2000, interval: 200,
    axisLine: { show: false }, splitLine: { show: false },
    axisTick: { show: true, inside: p.col !== 0, length: 5, lineStyle: { color: '#000', width: 1 } },
    axisLabel: { show: p.col === 0, customValues: massLabelTicks[p.row], margin: 12,
                 formatter: v => String(v),
                 fontSize: 14, color: '#000', fontFamily: FONT }
  });
  // mirrored mass ticks on the right edge
  option.yAxis.push({
    type: 'value', gridIndex: i, position: 'right', min: 0, max: 2000, interval: 200,
    axisLine: { show: false }, splitLine: { show: false },
    axisTick: { show: true, inside: true, length: 4, lineStyle: { color: '#000', width: 1 } },
    axisLabel: { show: false }
  });
  // secondary (environment) axis on the right
  option.yAxis.push({
    type: 'value', gridIndex: i, position: 'right', min: sec.min, max: sec.max,
    axisLine: { show: false }, splitLine: { show: false },
    axisTick: { show: true, inside: false, length: 5, customValues: sec.ticks,
                lineStyle: { color: '#000', width: 1 } },
    axisLabel: { show: p.col === 2, customValues: sec.ticks, margin: 27,
                 formatter: sec.fmt, fontSize: 14, color: '#000', fontFamily: FONT }
  });

  // environmental driver in gray
  let grayData;
  if (p.gray.kind === 'series') {
    grayData = p.gray.data.map((v, k) => [tempAgeStart + k * tempAgeStep, v]);
  } else {
    grayData = p.gray.data;
  }
  option.series.push({
    type: 'line', name: p.gray.name, xAxisIndex: i, yAxisIndex: 3 * i + 2,
    symbol: 'none', silent: true, z: 2,
    step: p.gray.kind === 'steps' ? 'end' : false,
    lineStyle: lineStyles.gray, data: grayData
  });

  // simulated mass curves
  ['dashed', 'dotted', 'solid'].forEach(key => {
    option.series.push({
      type: 'line', name: p[key].name, xAxisIndex: i, yAxisIndex: 3 * i,
      symbol: 'none', silent: true, z: 3, clip: false,
      lineStyle: lineStyles[key],
      data: ages.map((a, k) => [a, p[key].values[k]])
    });
  });

  option.legend.push({
    left: left + 13, top: top + 36.5, orient: 'vertical', padding: 0,
    itemWidth: 58, itemHeight: 12, itemGap: 5, selectedMode: false,
    textStyle: { fontSize: 12, fontFamily: FONT, color: '#111', padding: [0, 0, 0, 8] },
    data: ['gray', 'solid', 'dotted', 'dashed'].map(key => ({
      name: p[key].name,
      itemStyle: { opacity: 0 },
      lineStyle: Object.assign({}, lineStyles[key])
    }))
  });

  option.graphic.push({
    type: 'text', x: left + 13, y: top + 22,
    style: { text: p.title, fontSize: 17.5, fontFamily: FONT, fill: '#000',
             textAlign: 'left', textVerticalAlign: 'middle', align: 'left', verticalAlign: 'middle' }
  });
});

// column headings
const headingX = [206, 651, 1117];
columnTitles.forEach((t, c) => {
  option.graphic.push({
    type: 'text', x: headingX[c], y: 19,
    style: { text: t, fontSize: 21, fontFamily: FONT, fill: '#000',
             textAlign: 'left', textVerticalAlign: 'middle', align: 'left', verticalAlign: 'middle' }
  });
});

// axis titles
function axisTitle(text, x, y, rotate, extra) {
  return {
    type: 'text', x, y, rotation: rotate ? Math.PI / 2 : 0,
    style: Object.assign({ text, fontSize: 18, fontFamily: FONT, fill: '#000',
             textAlign: 'center', textVerticalAlign: 'middle', align: 'center', verticalAlign: 'middle' }, extra || {})
  };
}
option.graphic.push(axisTitle('Simulated mass (g)', 22, 518, true));
option.graphic.push(axisTitle('Salinity (ppt)', 1527, 205, true, { fontSize: 20.5 }));
option.graphic.push(axisTitle('Average caloric intake (kcal·g{sup|-1})', 1527, 511, true,
  { fontSize: 20.3, rich: { sup: { fontSize: 12, fontFamily: FONT, fill: '#000', padding: [0, 0, 10, 0] } } }));
option.graphic.push(axisTitle('Temperature (°C)', 1527, 850, true));
option.graphic.push(axisTitle('Age (years)', 781, 1052, false));

const chart = echarts.init(document.getElementById('chart'), null, { renderer: 'canvas' });
chart.setOption(option);
</script>
</body>
</html>
